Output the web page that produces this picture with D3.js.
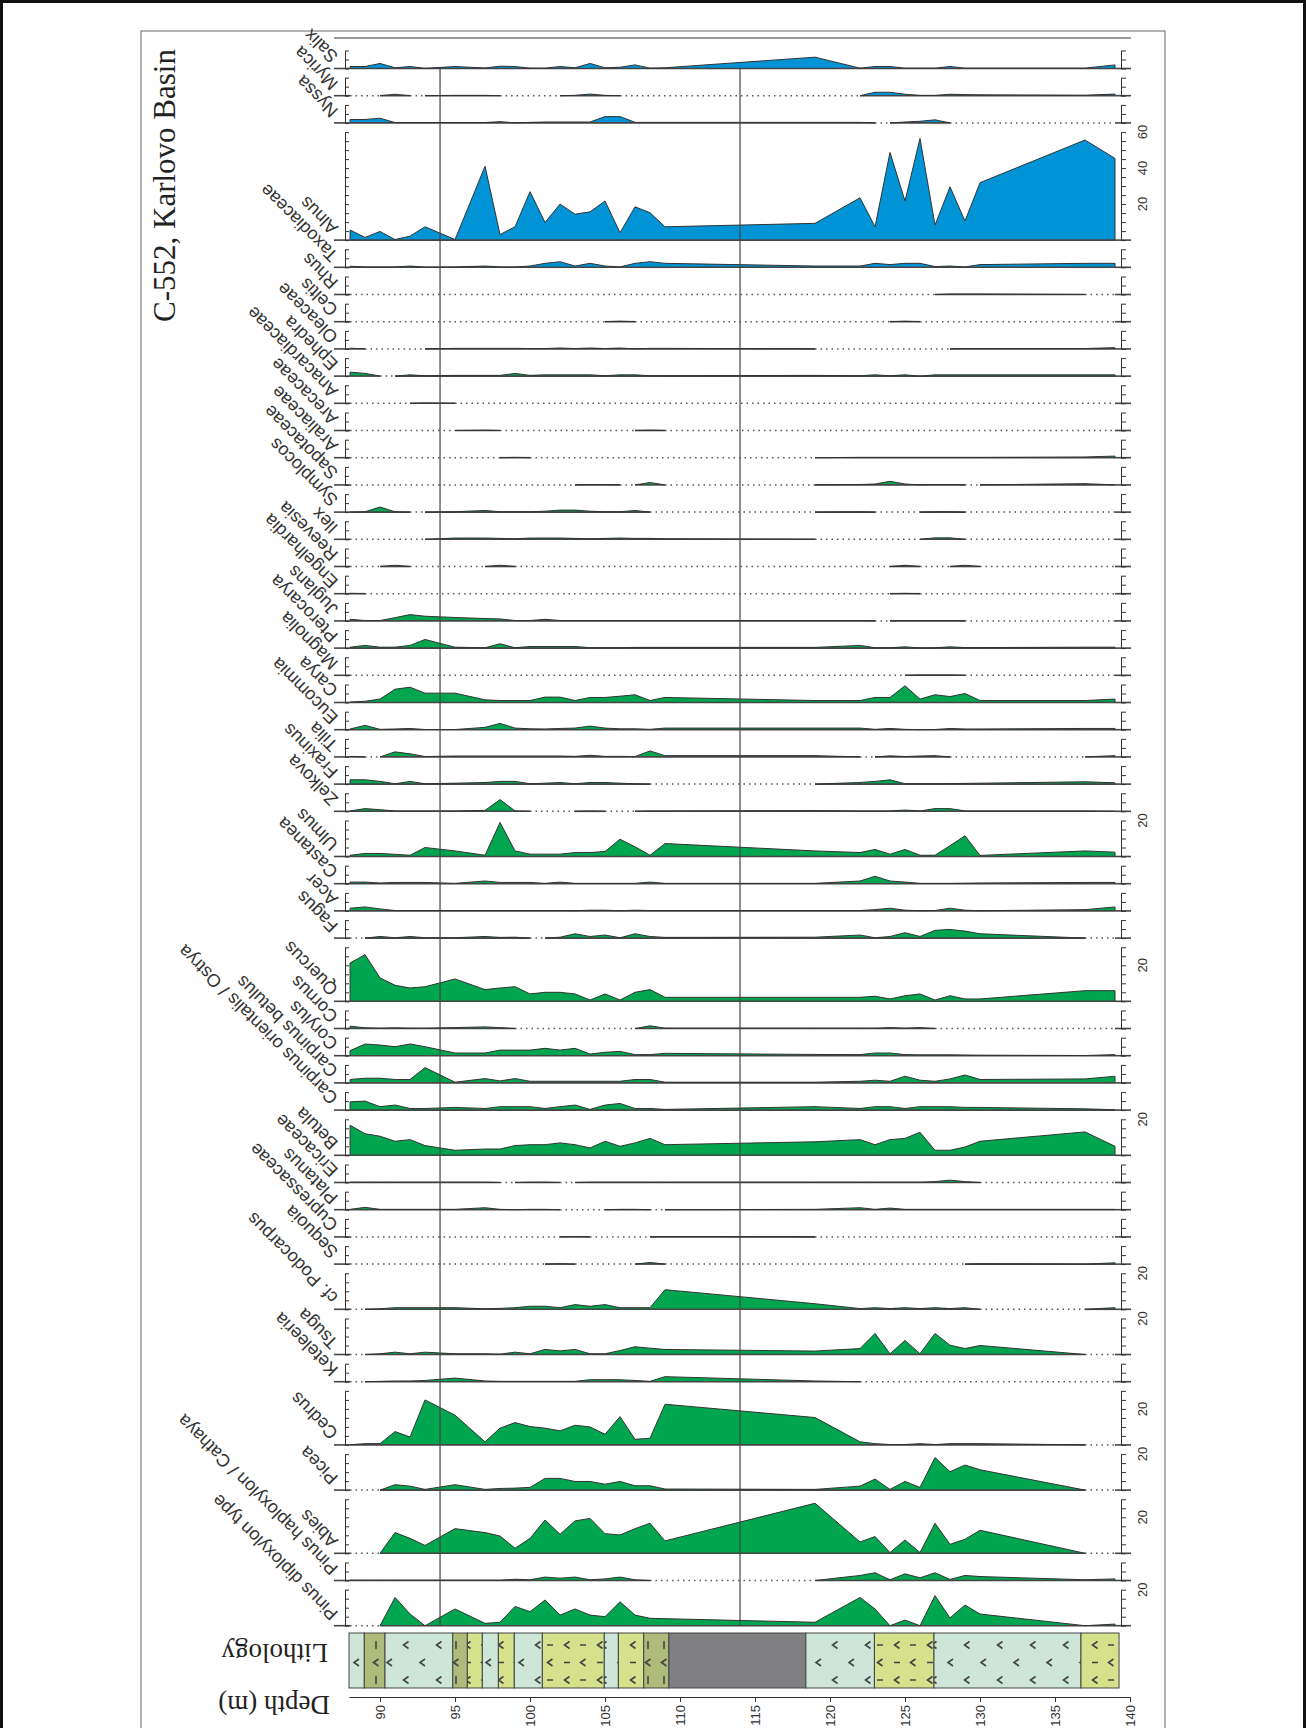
<!DOCTYPE html>
<html>
<head>
<meta charset="utf-8">
<script src="https://cdn.jsdelivr.net/npm/d3@7"></script>
<style>
  body { margin: 0; background: #fff; }
  svg { display: block; }
</style>
</head>
<body>
<svg id="chart"></svg>
<script>
const width = 1306;
const height = 1728;

// sample depths (m)
const depths = [88, 89, 90, 91, 92, 93, 95, 97, 98, 99, 100, 101, 102, 103, 104, 105,
  106, 107, 108, 109, 119, 122, 123, 124, 125, 126, 127, 128, 129, 130, 137, 139];

// percentages per taxon, one value per depth
const salix = [1.1, 1.1, 2.8, 0.4, 1.1, 0.1, 1.1, 0.3, 1.3, 1.1, 0.2, 0.2, 1.1, 0.4, 2.8, 0.4, 0.7, 2.0, 0.2, 0.4, 6.3, 0.2, 1.1, 1.1, 0.2, 0.2, 0.2, 1.1, 0.2, 0.2, 0.2, 2.0];
const myrica = [0, 0, 0, 0.8, 0, 0, 0.2, 0.2, 0, 0, 0, 0, 0, 0.2, 0.9, 0.2, 0, 0, 0, 0, 0, 0, 1.9, 1.9, 0.8, 0.2, 0.2, 0.8, 0.6, 0.5, 0.3, 0.9];
const nyssa = [1.9, 1.9, 2.6, 0.2, 0.2, 0.2, 0.2, 0.2, 0.7, 0, 0.3, 0.5, 0.5, 0.5, 0.5, 3.5, 3.5, 0.3, 0.3, 0.3, 0.3, 0.3, 0, 0, 0.5, 0.9, 1.7, 0, 0, 0, 0, 0];
const alnus = [5.6, 1.5, 4.8, 0.3, 2.2, 7.4, 0.3, 41, 3.1, 7.4, 26.9, 9.8, 20, 14.4, 15.7, 21.7, 4.1, 18.5, 15.2, 7.4, 9.3, 23.5, 7.4, 48.7, 21.7, 56.5, 8.3, 29.6, 10.6, 31.9, 55.6, 45.4];
const taxodiaceae = [0.6, 0.2, 0.2, 0.2, 0.7, 0.1, 0.2, 0.7, 0.2, 0.2, 0.7, 2.2, 3.1, 0.7, 2.2, 0.7, 0.2, 2.2, 3.1, 2.2, 0.7, 0.7, 2.2, 1.5, 2.2, 2.2, 0.4, 0.7, 0.2, 1.5, 2.2, 2.2];
const rhus = [0, 0, 0, 0, 0, 0, 0, 0, 0, 0, 0, 0, 0, 0, 0, 0, 0, 0, 0, 0, 0, 0, 0, 0, 0, 0, 0, 0.3, 0.3, 0.3, 0, 0];
const celtis = [0, 0, 0, 0, 0, 0, 0, 0, 0, 0, 0, 0, 0, 0, 0, 0, 0.3, 0, 0, 0, 0, 0, 0, 0, 0.3, 0, 0, 0, 0, 0, 0, 0];
const oleaceae = [0.4, 0, 0, 0, 0, 0, 0.3, 0.3, 0.3, 0.3, 0.2, 0.2, 0.5, 0.2, 0.5, 0.2, 0.5, 0, 0.3, 0.3, 0, 0, 0, 0, 0, 0, 0, 0, 0.2, 0.2, 0.2, 0.7];
const ephedra = [2.2, 1.5, 0, 0, 0.7, 0.2, 0.4, 0.4, 0.4, 1.5, 0.4, 0.7, 0.7, 0.7, 0.7, 0.2, 0.7, 0.7, 0.2, 0.2, 0.4, 0.2, 0.7, 0.2, 0.7, 0, 0.7, 0.7, 0.7, 0.7, 0.7, 0.7];
const anacardiaceae = [0, 0, 0, 0, 0, 0.2, 0, 0, 0, 0, 0, 0, 0, 0, 0, 0, 0, 0, 0, 0, 0, 0, 0, 0, 0, 0, 0, 0, 0, 0, 0, 0];
const arecaceae = [0, 0, 0, 0, 0, 0, 0, 0.2, 0, 0, 0, 0, 0, 0, 0, 0, 0, 0, 0.2, 0, 0, 0, 0, 0, 0, 0, 0, 0, 0, 0, 0, 0];
const araliaceae = [0, 0, 0, 0, 0, 0, 0, 0, 0, 0.2, 0, 0, 0, 0, 0, 0, 0, 0, 0, 0, 0, 0.2, 0.2, 0.2, 0.2, 0.2, 0.2, 0.2, 0.2, 0.2, 0.4, 0.9];
const sapotaceae = [0, 0, 0, 0, 0, 0, 0, 0, 0, 0, 0, 0, 0, 0, 0.2, 0.2, 0, 0, 1.3, 0, 0, 0.2, 0.5, 2.0, 0.5, 0, 0.2, 0.2, 0, 0, 0.7, 0];
const symplocos = [0, 0.2, 2.8, 0.2, 0, 0, 0.2, 0.9, 0.2, 0.2, 0.2, 0.5, 1.1, 1.1, 0.5, 0.2, 0.2, 0.9, 0, 0, 0, 0.2, 0, 0, 0, 0, 0.2, 0.2, 0, 0, 0, 0];
const ilex = [0, 0, 0, 0, 0, 0, 0.7, 0.7, 0.5, 0.3, 0.7, 0.7, 0.7, 0.5, 0.3, 0.5, 0.7, 0.5, 0.5, 0.3, 0, 0, 0, 0, 0, 0, 0.8, 0.8, 0, 0, 0, 0];
const reevesia = [0, 0, 0, 0.7, 0, 0, 0, 0, 0.7, 0, 0, 0, 0, 0, 0, 0, 0, 0, 0, 0, 0, 0, 0, 0, 0.7, 0, 0, 0, 0.7, 0, 0, 0];
const engelhardia = [0.2, 0, 0, 0, 0, 0, 0, 0, 0, 0, 0, 0, 0, 0, 0, 0, 0, 0, 0, 0, 0, 0, 0, 0, 0.2, 0, 0, 0, 0, 0, 0, 0];
const juglans = [0.9, 0.2, 0.2, 1.8, 3.5, 2.6, 1.9, 1.3, 1.1, 0.2, 0.2, 0.9, 0.2, 0.2, 0.2, 0.2, 0.2, 0.2, 0.2, 0.2, 0.2, 0.2, 0, 0, 0.2, 0.2, 0.2, 0.2, 0, 0, 0, 0];
const pterocarya = [0.5, 1.5, 0.5, 0.5, 1.5, 4.8, 0.5, 0.2, 2.4, 0.2, 0.9, 0.9, 0.9, 0.9, 0.2, 0.2, 0.2, 0.4, 0.4, 0.4, 0.4, 1.5, 0.2, 0.2, 0.7, 0.1, 0.2, 0.7, 0.3, 0.3, 0.5, 0.5];
const magnolia = [0, 0, 0, 0, 0, 0, 0, 0, 0, 0, 0, 0, 0, 0, 0, 0, 0, 0, 0, 0, 0, 0, 0, 0, 0, 0.2, 0.2, 0.2, 0, 0, 0, 0];
const carya = [0.3, 0.7, 1.9, 7.4, 8.5, 5.2, 5.2, 1.5, 1.1, 1.1, 1.1, 3.0, 3.0, 1.1, 2.8, 2.8, 3.5, 4.3, 1.1, 2.8, 1.1, 1.1, 2.8, 2.8, 9.3, 1.9, 4.3, 3.3, 5.0, 1.1, 1.1, 1.9];
const eucommia = [0.4, 2.4, 0.2, 0.4, 0.7, 0.1, 0.1, 1.3, 3.5, 0.9, 0.5, 0.4, 0.7, 0.9, 2.0, 0.9, 0.5, 0.5, 0.2, 0.9, 0.9, 0.9, 0.2, 0.7, 0.2, 0, 0.1, 0.7, 0.4, 0.4, 0.7, 0.7];
const tilia = [0.3, 0, 0, 2.8, 1.7, 0.2, 0.5, 0.5, 0.5, 0.5, 0.5, 0.5, 0.5, 0.3, 0.9, 0.3, 0.3, 0.2, 3.3, 0.7, 0.7, 0, 0, 0.6, 0.2, 0.5, 0.7, 0, 0, 0, 0, 0.7];
const fraxinus = [2.4, 2.4, 1.5, 0.2, 1.5, 0.2, 0.5, 0.9, 1.5, 1.5, 0.2, 0.5, 0.9, 0.2, 0.9, 0.9, 0.5, 0.2, 0, 0, 0, 0.9, 1.5, 2.4, 0.2, 0.2, 0.2, 0.3, 0.4, 0.5, 1.3, 0.7];
const zelkova = [0.2, 1.5, 0.9, 0.2, 0.2, 0.2, 0.2, 0.5, 6.5, 0.2, 0, 0, 0, 0, 0.2, 0, 0, 0, 0.2, 0.2, 0.4, 0.2, 0.2, 0.2, 0.7, 0.2, 1.5, 1.5, 0.2, 0.2, 0.2, 0];
const ulmus = [0.7, 1.7, 1.7, 1.2, 0.7, 5.0, 3.1, 0.7, 18.9, 3.1, 1.3, 1.3, 1.3, 2.2, 2.2, 2.8, 9.6, 5.4, 0.7, 7.2, 3.1, 2.2, 3.9, 1.3, 3.9, 0.7, 0.7, 6.0, 11.5, 0.6, 3.1, 2.4];
const castanea = [0.9, 0.9, 0.4, 0.7, 0.7, 0.7, 0.2, 1.5, 0.7, 0.7, 0.7, 0.2, 0.9, 0.2, 0.2, 0.2, 0.2, 0.2, 0.9, 0.2, 0.2, 1.5, 4.1, 1.5, 0.9, 0.2, 0.2, 0.2, 0.3, 0.4, 0.7, 0.7];
const acer = [1.5, 2.2, 1.1, 0.2, 0.2, 0.2, 0.2, 0.2, 0.2, 0.2, 0.2, 0.2, 0.2, 0.1, 0.4, 0.4, 0.1, 0.4, 0.2, 0.2, 0.2, 0.2, 0.7, 1.5, 0.4, 0.1, 0.2, 1.5, 0.4, 0.1, 0.7, 2.2];
const fagus = [0, 0, 0.9, 0.2, 0.9, 0.2, 0.2, 0.9, 0.4, 0.5, 0, 0, 0.5, 2.4, 0.9, 1.7, 0.2, 2.4, 0.9, 0.4, 0.5, 1.7, 0.2, 0.9, 3.0, 0.9, 4.3, 4.8, 3.9, 2.4, 0, 0];
const quercus = [21.3, 25.9, 13, 8.9, 7.4, 8.1, 12.4, 6.5, 7.4, 8.1, 4.1, 5.0, 5.0, 4.1, 0.7, 4.1, 0.7, 5.0, 6.5, 2.2, 2.2, 2.2, 2.8, 1.3, 3.1, 4.1, 0.7, 3.1, 1.3, 1.3, 5.9, 5.9];
const cornus = [1.3, 0.4, 0.2, 0.4, 0.2, 0.2, 0.5, 0.9, 0.5, 0, 0, 0, 0, 0, 0, 0, 0, 0, 1.5, 0.2, 0.2, 0.2, 0.2, 0.5, 0.2, 0.5, 0, 0, 0, 0, 0, 0];
const corylus = [2.8, 6.5, 5.9, 5.0, 6.5, 5.0, 1.5, 1.5, 3.1, 3.1, 3.1, 4.1, 3.1, 4.1, 0.9, 1.9, 2.4, 0.6, 0.6, 1.3, 0.7, 0.6, 1.5, 1.5, 0.6, 0.5, 0.5, 0.5, 0.4, 0.3, 0.1, 0.6];
const carpinusBetulus = [1.9, 2.6, 2.6, 1.9, 1.9, 8.5, 0.4, 2.4, 1.1, 2.4, 0.9, 0.9, 0.9, 0.9, 0.9, 0.9, 0.9, 1.9, 1.9, 0.4, 0.4, 0.9, 1.5, 0.9, 3.7, 1.5, 0.9, 2.2, 4.4, 1.9, 2.2, 3.7];
const carpinusOrientalis = [4.6, 5.0, 1.9, 2.8, 0.9, 0.9, 1.5, 0.9, 1.9, 1.9, 1.9, 0.9, 1.9, 2.8, 0.4, 2.8, 3.7, 0.9, 0.9, 0.4, 1.9, 0.9, 1.9, 1.9, 0.9, 1.9, 1.9, 1.9, 1.5, 1.5, 0.7, 0.2];
const betula = [16.7, 12, 10.6, 7.8, 8.7, 5.4, 2.8, 3.5, 3.5, 5.4, 5.9, 5.9, 6.9, 5.9, 4.1, 7.8, 5.0, 6.9, 9.4, 5.9, 7.5, 8.7, 5.9, 8.7, 9.4, 12.8, 2.8, 2.8, 4.6, 7.8, 13, 5.0];
const ericaceae = [0.2, 0.2, 0.2, 0.2, 0.2, 0.2, 0.2, 0.2, 0, 0, 0.2, 0.2, 0, 0, 0.2, 0.2, 0.2, 0.2, 0.2, 0.2, 0.2, 0.2, 0.2, 0.2, 0.2, 0.2, 0.5, 1.3, 0.5, 0, 0, 0];
const platanus = [0.2, 1.3, 0.2, 0.2, 0.2, 0.2, 0.2, 1.1, 0.2, 0, 0.2, 0.2, 0, 0, 0, 0, 0.2, 0.2, 0, 0, 0.2, 1.1, 0.2, 0.9, 0.2, 0.2, 0.2, 0.2, 0.2, 0.2, 0.2, 0.2];
const cupressaceae = [0, 0, 0, 0, 0, 0, 0, 0, 0, 0, 0, 0, 0, 0.2, 0, 0, 0, 0, 0, 0.2, 0, 0, 0, 0, 0, 0, 0, 0, 0, 0, 0, 0];
const sequoia = [0, 0, 0, 0, 0, 0, 0, 0, 0, 0, 0, 0, 0.2, 0, 0, 0, 0, 0, 0.9, 0, 0, 0, 0, 0, 0, 0, 0, 0, 0, 0.2, 0, 0.7];
const podocarpus = [0, 0, 0.3, 0.9, 0.9, 0.9, 0.9, 0.3, 0.5, 0.9, 1.7, 1.7, 0.9, 2.6, 1.7, 2.6, 0.9, 0.9, 0.9, 10.9, 3.1, 0.4, 0.9, 0.4, 0.9, 0.4, 0.9, 0.4, 0.9, 0, 0, 0.9];
const tsuga = [0, 0, 0.4, 1.3, 0.4, 1.3, 0.4, 0.4, 0.2, 1.3, 0.4, 2.8, 2.0, 2.8, 0.4, 0.4, 2.2, 4.3, 3.5, 2.8, 1.9, 3.3, 11.7, 0.4, 7.8, 0.4, 11.7, 5.2, 3.3, 5.0, 0, 0];
const keteleeria = [0, 0, 0.2, 0.4, 0.4, 0.7, 2.0, 0.4, 0.2, 0.2, 0.2, 0.2, 0.2, 0.2, 1.1, 1.1, 1.1, 0.7, 0.2, 2.8, 0.4, 0, 0, 0, 0, 0, 0, 0, 0, 0, 0, 0];
const cedrus = [0.1, 0.7, 0.7, 7.4, 4.4, 25, 16.5, 1.7, 9.3, 12.4, 10.2, 9.3, 7.8, 10.9, 10, 5.9, 15.7, 3.1, 3.7, 22.6, 15.2, 1.7, 0.7, 0.2, 0.2, 0.7, 0.2, 0.7, 0.7, 0.7, 0, 0];
const picea = [0, 0, 0, 3.0, 2.2, 0.4, 3.0, 0.4, 0.9, 1.1, 1.5, 6.5, 6.5, 4.8, 4.8, 3.3, 4.8, 2.4, 2.4, 0.6, 0.4, 2.2, 6.1, 0.4, 4.8, 1.5, 18.1, 10.2, 13.9, 11.3, 0, 0];
const abies = [0, 0, 0, 11.5, 8.3, 4.4, 13.7, 11.5, 9.6, 2.8, 8.3, 18.5, 10.6, 18, 19.4, 10.9, 10.2, 13.7, 16.7, 6.9, 27.8, 6.3, 9.3, 0.4, 7.4, 0.4, 16.7, 5.0, 7.8, 12.8, 0, 0];
const pinusHaploxylon = [0.2, 0.2, 0.2, 0.2, 0.2, 0.2, 0.2, 0.2, 0.2, 0.7, 0.4, 1.9, 1.3, 1.9, 0.4, 0.9, 1.9, 0.4, 0, 0, 0, 2.8, 4.3, 0.4, 3.7, 1.5, 4.3, 0.6, 2.8, 2.2, 0.4, 0.9];
const pinusDiploxylon = [0, 0, 0, 15.7, 6.5, 0, 9.3, 1.3, 1.9, 10.7, 7.8, 14.3, 5.9, 9.3, 5.9, 5.0, 13.3, 5.9, 4.1, 3.9, 1.9, 15.7, 9.3, 0, 3.1, 0, 16.7, 4.3, 11.5, 6.5, 0, 0.9];

const taxa = ["Salix", "Myrica", "Nyssa", "Alnus", "Taxodiaceae", "Rhus", "Celtis", "Oleaceae",
  "Ephedra", "Anacardiaceae", "Arecaceae", "Araliaceae", "Sapotaceae", "Symplocos", "Ilex",
  "Reevesia", "Engelhardia", "Juglans", "Pterocarya", "Magnolia", "Carya", "Eucommia", "Tilia",
  "Fraxinus", "Zelkova", "Ulmus", "Castanea", "Acer", "Fagus", "Quercus", "Cornus", "Corylus",
  "Carpinus betulus", "Carpinus orientalis / Ostrya", "Betula", "Ericaceae", "Platanus",
  "Cupressaceae", "Sequoia", "cf. Podocarpus", "Tsuga", "Keteleeria", "Cedrus", "Picea", "Abies",
  "Pinus haploxylon / Cathaya", "Pinus diploxylon type"];
const taxonValues = [salix, myrica, nyssa, alnus, taxodiaceae, rhus, celtis, oleaceae, ephedra,
  anacardiaceae, arecaceae, araliaceae, sapotaceae, symplocos, ilex, reevesia, engelhardia, juglans,
  pterocarya, magnolia, carya, eucommia, tilia, fraxinus, zelkova, ulmus, castanea, acer, fagus,
  quercus, cornus, corylus, carpinusBetulus, carpinusOrientalis, betula, ericaceae, platanus,
  cupressaceae, sequoia, podocarpus, tsuga, keteleeria, cedrus, picea, abies, pinusHaploxylon,
  pinusDiploxylon];
// upper end of each taxon's % scale
const taxonMax = [10, 10, 10, 60, 10, 10, 10, 10, 10, 10, 10, 10, 10, 10, 10, 10, 10, 10, 10, 10,
  10, 10, 10, 10, 10, 20, 10, 10, 10, 30, 10, 10, 10, 10, 20, 10, 10, 10, 10, 20, 20, 10, 30, 20,
  30, 10, 20];
const wetlandCount = 5; // first taxa drawn in blue

// lithology: unit boundaries (m) and kinds
const lithoBounds = [87.93, 88.95, 90.33, 94.85, 95.82, 96.82, 97.89, 98.95, 100.82, 104.95,
  105.89, 107.58, 109.26, 118.39, 122.96, 126.93, 136.73, 139.27];
const lithoKind = ["clay", "coal", "clay", "coal", "silt", "clay", "silt", "clay", "silt", "clay",
  "silt", "coal", "gap", "clay", "silt", "clay", "silt"];
const depthTicks = d3.range(90, 141, 5);
const zoneDepths = [94, 114];

const blue = "#0094d6";
const green = "#00a54f";
const ink = "#333";

const svg = d3.select("#chart").attr("width", width).attr("height", height);

const x = d3.scaleLinear().domain([87.93, 140]).range([349, 1130]);
const pxPerPct = 1.8;
const stripGap = 9.2;
const axisLeftX = 345;
const axisRightX = 1121;

// frames
svg.append("rect").attr("x", 1.5).attr("y", 1.5).attr("width", 1303).attr("height", 1760)
  .attr("fill", "none").attr("stroke", "#111").attr("stroke-width", 3);
svg.append("rect").attr("x", 141).attr("y", 31).attr("width", 1024).attr("height", 1760)
  .attr("fill", "none").attr("stroke", "#666").attr("stroke-width", 1);
svg.append("line").attr("x1", 334).attr("x2", 1131).attr("y1", 38).attr("y2", 38)
  .attr("stroke", "#777").attr("stroke-width", 1.5);

svg.append("text")
  .attr("transform", "translate(175,322) rotate(-90)")
  .attr("font-family", "'Liberation Serif', 'Times New Roman', serif")
  .attr("font-size", 31).attr("fill", "#222")
  .text("C-552, Karlovo Basin");

// strip layout
let cursor = 50.5;
const strips = taxa.map((name, i) => {
  const top = cursor;
  const base = top + taxonMax[i] * pxPerPct;
  cursor = base + stripGap;
  return { name, top, base, max: taxonMax[i], values: taxonValues[i], fill: i < wetlandCount ? blue : green };
});

const stripLayer = svg.append("g");
strips.forEach((s) => {
  const y = d3.scaleLinear().domain([0, s.max]).range([s.base, s.top]);
  const g = stripLayer.append("g");
  const pts = depths.map((d, i) => [d, s.values[i]]);

  g.append("path").datum(pts)
    .attr("d", d3.area().x((p) => x(p[0])).y0(s.base).y1((p) => y(p[1])))
    .attr("fill", s.fill);

  // split into present (solid) and absent (dotted) stretches
  const runs = [];
  for (let i = 0; i < pts.length - 1; i++) {
    const solid = pts[i][1] > 0 || pts[i + 1][1] > 0;
    const last = runs[runs.length - 1];
    if (last && last.solid === solid) last.end = i + 1;
    else runs.push({ solid, start: i, end: i + 1 });
  }
  runs.forEach((r) => {
    const seg = pts.slice(r.start, r.end + 1);
    if (r.solid) {
      g.append("line").attr("x1", x(seg[0][0])).attr("x2", x(seg[seg.length - 1][0]))
        .attr("y1", s.base).attr("y2", s.base).attr("stroke", "#444").attr("stroke-width", 1.6);
      const outline = [[seg[0][0], 0], ...seg, [seg[seg.length - 1][0], 0]];
      g.append("path").datum(outline)
        .attr("d", d3.line().x((p) => x(p[0])).y((p) => y(p[1])))
        .attr("fill", "none").attr("stroke", ink).attr("stroke-width", 1);
    } else {
      g.append("line").attr("x1", x(seg[0][0])).attr("x2", x(seg[seg.length - 1][0]))
        .attr("y1", s.base).attr("y2", s.base).attr("stroke", "#555")
        .attr("stroke-width", 1.5).attr("stroke-dasharray", "1.5 4");
    }
  });

  // baseline stubs outside the data range
  g.append("line").attr("x1", 334).attr("x2", x(depths[0])).attr("y1", s.base).attr("y2", s.base)
    .attr("stroke", "#444").attr("stroke-width", 1.6);
  g.append("line").attr("x1", x(depths[depths.length - 1])).attr("x2", 1131)
    .attr("y1", s.base).attr("y2", s.base).attr("stroke", "#444").attr("stroke-width", 1.6);

  const ticks = d3.range(0, s.max + 0.01, 5);
  g.append("g").attr("transform", `translate(${axisLeftX},0)`).attr("color", ink)
    .call(d3.axisRight(y).tickValues(ticks).tickSize(4).tickSizeOuter(0).tickFormat(""));
  g.append("g").attr("transform", `translate(${axisRightX},0)`).attr("color", ink)
    .call(d3.axisRight(y).tickValues(ticks).tickSize(5).tickSizeOuter(0).tickFormat(""));

  d3.range(20, s.max + 0.01, 20).forEach((v) => {
    g.append("text")
      .attr("transform", `translate(1147,${y(v)}) rotate(-90)`)
      .attr("text-anchor", "middle")
      .attr("font-family", "'Liberation Sans', Arial, sans-serif")
      .attr("font-size", 13).attr("fill", ink)
      .text(v);
  });

  g.append("text")
    .attr("transform", `translate(339,${s.base - 13}) rotate(225)`)
    .attr("font-family", "'Liberation Sans', Arial, sans-serif")
    .attr("font-size", 18).attr("fill", ink)
    .text(s.name);
});

// zone boundaries
zoneDepths.forEach((d) => {
  svg.append("line").attr("x1", x(d)).attr("x2", x(d))
    .attr("y1", strips[0].base).attr("y2", strips[strips.length - 1].base)
    .attr("stroke", "#444").attr("stroke-width", 1.2);
});

// lithology
const lithoTop = 1633;
const lithoBottom = 1688;
const defs = svg.append("defs");
const lt = (px, py) => `M${px + 2.5},${py - 3.5}L${px - 2.5},${py}L${px + 2.5},${py + 3.5}`;
const dash = (px, py) => `M${px - 3},${py}H${px + 3}`;
const bar = (px, py) => `M${px},${py - 4}V${py + 4}`;
const patterns = {
  clay: { w: 33, bg: "#cde6d8", marks: [lt(10, 12), lt(26.5, 29.5)] },
  silt: { w: 33, bg: "#d5e18b", marks: [lt(6, 12), dash(22, 12), dash(6, 29.5), lt(22, 29.5)] },
  coal: { w: 16, bg: "#aebb7b", marks: [bar(8, 12), lt(8, 29.5)] },
};
Object.entries(patterns).forEach(([k, p]) => {
  const pat = defs.append("pattern").attr("id", `lith-${k}`).attr("patternUnits", "userSpaceOnUse")
    .attr("x", 0).attr("y", lithoTop).attr("width", p.w).attr("height", 35);
  pat.append("rect").attr("width", p.w).attr("height", 35).attr("fill", p.bg);
  pat.append("path").attr("d", p.marks.join("")).attr("fill", "none")
    .attr("stroke", "#444").attr("stroke-width", 1.6);
});

svg.append("g").selectAll("rect")
  .data(lithoKind)
  .enter()
  .append("rect")
  .attr("x", (d, i) => x(lithoBounds[i]))
  .attr("width", (d, i) => x(lithoBounds[i + 1]) - x(lithoBounds[i]))
  .attr("y", lithoTop)
  .attr("height", lithoBottom - lithoTop)
  .attr("fill", (d) => (d === "gap" ? "#808083" : `url(#lith-${d})`))
  .attr("stroke", "#444")
  .attr("stroke-width", 1);

const serif = "'Liberation Serif', 'Times New Roman', serif";
svg.append("text").attr("transform", "translate(328,1644) rotate(180)")
  .attr("font-family", serif).attr("font-size", 27).attr("fill", "#222").text("Lithology");
svg.append("text").attr("transform", "translate(330,1696) rotate(180)")
  .attr("font-family", serif).attr("font-size", 27).attr("fill", "#222").text("Depth (m)");

// depth axis
const depthAxis = svg.append("g")
  .attr("transform", "translate(0,1697)")
  .attr("color", ink)
  .call(d3.axisBottom(x).tickValues(depthTicks).tickSize(5).tickSizeOuter(0));
depthAxis.selectAll("text")
  .attr("transform", "rotate(-90)")
  .attr("x", -8)
  .attr("y", 0)
  .attr("dy", "0.35em")
  .attr("text-anchor", "end")
  .attr("font-family", "'Liberation Sans', Arial, sans-serif")
  .attr("font-size", 13);
</script>
</body>
</html>
